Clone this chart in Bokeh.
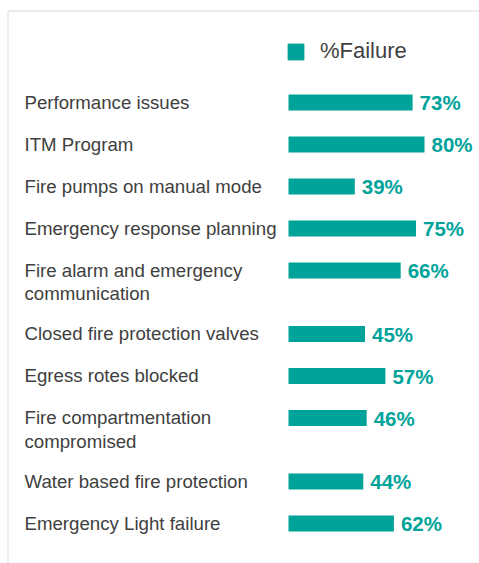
from bokeh.plotting import figure
from bokeh.models import Range1d, Legend, LegendItem, ColumnDataSource
from bokeh.core.properties import value
from bokeh.embed import file_html
from bokeh.resources import INLINE

categories = [
    "Performance issues",
    "ITM Program",
    "Fire pumps on manual mode",
    "Emergency response planning",
    "Fire alarm and emergency\ncommunication",
    "Closed fire protection valves",
    "Egress rotes blocked",
    "Fire compartmentation\ncompromised",
    "Water based fire protection",
    "Emergency Light failure",
]
failure_pct = [73, 80, 39, 75, 66, 45, 57, 46, 44, 62]
value_labels = [f"{v}%" for v in failure_pct]
series_name = "%Failure"

TEAL = "#00a39a"
GREY = "#404040"
FONT = "Liberation Sans"

W, H = 479, 563
PX_PER_PCT = 1.7
BAR_X0 = 288                      # px from figure left where 0% lies
x_start = -BAR_X0 / PX_PER_PCT
x_end = (W - BAR_X0) / PX_PER_PCT

# row layout (vertical units == pixels, top = 0)
ROW0, STEP, EXTRA_LINE = 102, 42, 21.5
ys = []
yy = ROW0
for c in categories:
    ys.append(yy)
    yy += STEP + EXTRA_LINE * c.count("\n")

src = ColumnDataSource(dict(y=ys, v=failure_pct, cat=categories,
                            lab=value_labels, ytop=[y - 11 for y in ys]))

p = figure(width=W, height=H, x_range=Range1d(x_start, x_end),
           y_range=Range1d(H, 0), output_backend="svg",
           toolbar_location=None, min_border=0)
p.axis.visible = False
p.grid.visible = False
p.outline_line_color = None
p.background_fill_color = "white"
p.border_fill_color = "white"

# card border (top + left)
left_edge = x_start + 7.5 / PX_PER_PCT
p.line(x=[x_end, left_edge, left_edge], y=[10.5, 10.5, H],
       line_color="#d9d9d9", line_width=1)

r = p.hbar(y="y", left=0, right="v", height=16, source=src,
           fill_color=TEAL, line_color=None)

p.text(x=0, y="ytop", text="cat", source=src, x_offset=-264,
       text_baseline="top", text_align="left",
       text_font=value(FONT), text_font_size="18.67px",
       text_color=GREY, text_line_height=1.12)

p.text(x="v", y="y", text="lab", source=src, x_offset=7,
       text_baseline="middle", text_align="left",
       text_font=value(FONT), text_font_size="20.5px",
       text_font_style="bold", text_color=TEAL)

legend = Legend(items=[LegendItem(label=series_name, renderers=[r])],
                location=(BAR_X0 - 3, H - 64), orientation="horizontal",
                glyph_width=21, glyph_height=21, label_height=26,
                label_standoff=14, padding=0, margin=0, spacing=0,
                border_line_color=None, background_fill_alpha=0,
                label_text_font=FONT, label_text_font_size="22px",
                label_text_color=GREY)
p.add_layout(legend, "center")

open("out.html", "w").write(file_html(p, INLINE))
